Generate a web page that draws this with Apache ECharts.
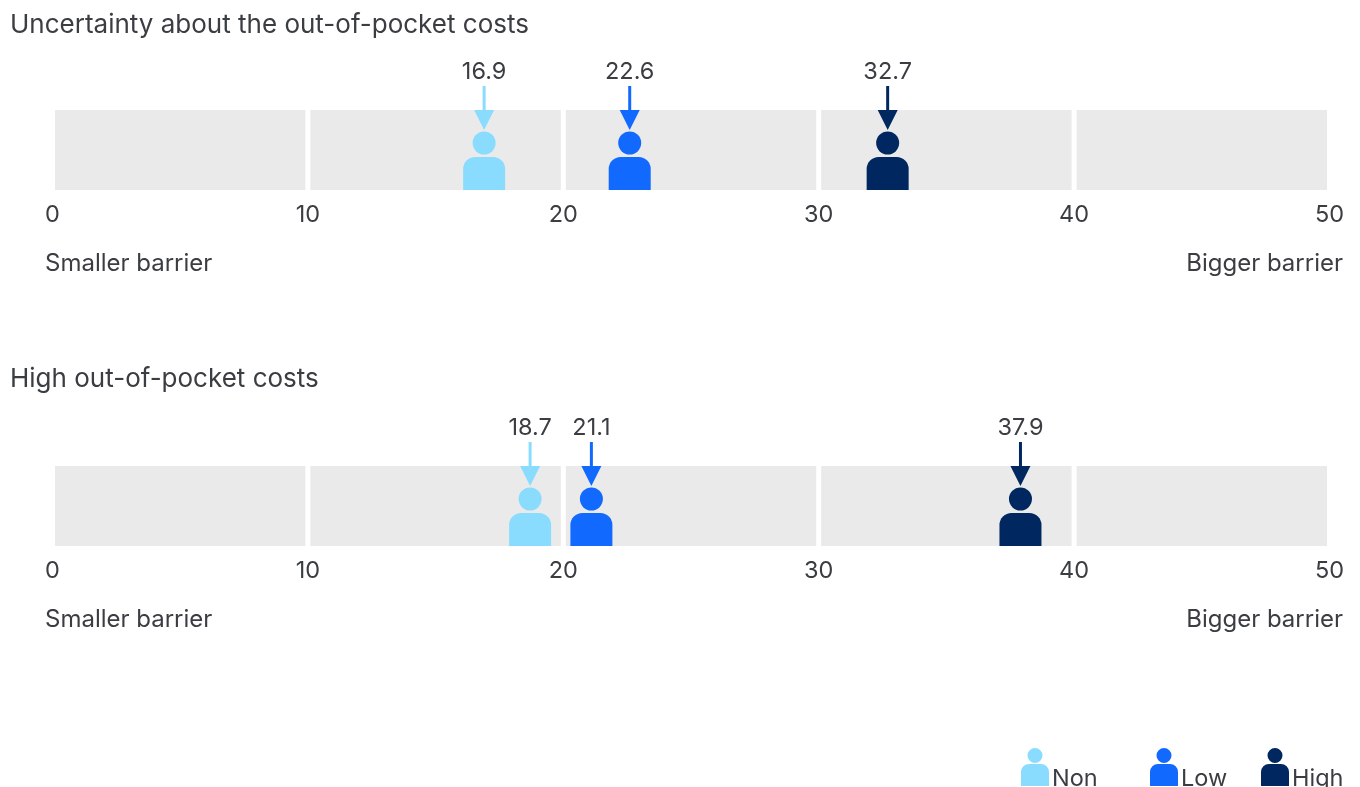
<!DOCTYPE html>
<html>
<head>
<meta charset="utf-8">
<style>html,body{margin:0;padding:0;background:#fff}#chart{width:1360px;height:787px}</style>
<script src="https://cdn.jsdelivr.net/npm/echarts@6/dist/echarts.min.js"></script>
</head>
<body>
<div id="chart"></div>
<script>
// Barrier scores on a 0-50 scale, one panel per barrier, one value per deductible group
const panelTitles = ['Uncertainty about the out-of-pocket costs', 'High out-of-pocket costs'];
const groups = ['Non', 'Low', 'High'];
const groupColors = ['#8adcff', '#1169fe', '#00275f'];
const uncertaintyScores = [16.9, 22.6, 32.7];
const highCostScores = [18.7, 21.1, 37.9];
const bandStarts = [0, 10, 20, 30, 40];
const scaleEndLabels = ['Smaller barrier', 'Bigger barrier'];

const panelScores = [uncertaintyScores, highCostScores];
const FONT = 'Inter, "Noto Sans", sans-serif';
const INK = '#3a3d42';
const PANEL_TOPS = [110, 466];
const BAND_HEIGHT = 80;

// Person glyph used for legend swatches: head plus rounded shoulders
const PERSON_ICON = 'path://M14 0a7.5 7.5 0 1 1 0 15a7.5 7.5 0 1 1 0-15z' +
  'M8 16H20a8 8 0 0 1 8 8V38H0V24a8 8 0 0 1 8-8z';

// Grey segment between two ticks, inset so white gaps sit on the tick positions
function renderBand(params, api) {
  const a = api.coord([api.value(0), 0]);
  const b = api.coord([api.value(0) + 10, 1]);
  return {
    type: 'rect',
    shape: { x: a[0] + 2.5, y: b[1], width: b[0] - a[0] - 5, height: a[1] - b[1] },
    style: { fill: '#eaeaea' }
  };
}

// Person standing on the band floor, arrow above the head and the score on top
function renderMarker(params, api) {
  const value = api.value(0);
  const p = api.coord([value, 0]);
  const x = p[0], floor = p[1];
  const fill = api.visual('color');
  const bandTop = floor - BAND_HEIGHT;
  return {
    type: 'group',
    children: [
      { type: 'rect', shape: { x: x - 21, y: floor - 33, width: 42, height: 33, r: [12, 12, 0, 0] }, style: { fill } },
      { type: 'circle', shape: { cx: x, cy: floor - 47, r: 11.5 }, style: { fill } },
      { type: 'line', shape: { x1: x, y1: bandTop - 24, x2: x, y2: bandTop + 2 }, style: { stroke: fill, lineWidth: 3 } },
      { type: 'polygon', shape: { points: [[x - 10, bandTop], [x + 10, bandTop], [x, bandTop + 20]] }, style: { fill } },
      { type: 'text', style: { text: value.toFixed(1), x: x, y: bandTop - 38, fill: INK,
          font: '23.5px ' + FONT, align: 'center', verticalAlign: 'middle' } }
    ]
  };
}

const grids = PANEL_TOPS.map(top => ({ left: 52.5, width: 1277, top, height: BAND_HEIGHT }));
const xAxes = PANEL_TOPS.map((_, i) => ({
  type: 'value', gridIndex: i, min: 0, max: 50, interval: 10,
  axisLine: { show: false }, axisTick: { show: false }, splitLine: { show: false },
  axisLabel: { color: INK, fontFamily: FONT, fontSize: 23.5, margin: 13 }
}));
const yAxes = PANEL_TOPS.map((_, i) => ({ type: 'value', gridIndex: i, min: 0, max: 1, show: false }));

const series = [];
PANEL_TOPS.forEach((_, i) => {
  series.push({
    type: 'custom', name: 'bands', xAxisIndex: i, yAxisIndex: i, silent: true,
    renderItem: renderBand, encode: { x: 0 },
    data: bandStarts.map(v => [v])
  });
  groups.forEach((g, k) => {
    series.push({
      type: 'custom', name: g, xAxisIndex: i, yAxisIndex: i, silent: true,
      itemStyle: { color: groupColors[k] }, renderItem: renderMarker, encode: { x: 0 },
      clip: false, z: 5,
      data: [[panelScores[i][k]]]
    });
  });
});

const titles = panelTitles.map((text, i) => ({
  text, left: 5, top: [7, 361][i],
  textStyle: { color: INK, fontFamily: FONT, fontSize: 26, fontWeight: 400 }
}));

const scaleNotes = [];
PANEL_TOPS.forEach(top => {
  scaleNotes.push({ type: 'text', left: 45, top: top + 142,
    style: { text: scaleEndLabels[0], fill: INK, font: '24px ' + FONT } });
  scaleNotes.push({ type: 'text', right: 17, top: top + 142,
    style: { text: scaleEndLabels[1], fill: INK, font: '24px ' + FONT } });
});

const legendLefts = [1021, 1150, 1261];
const legends = groups.map((g, k) => ({
  left: legendLefts[k], top: 748, padding: 0, selectedMode: false,
  itemWidth: 28, itemHeight: 38,
  data: [{ name: g, icon: PERSON_ICON }],
  formatter: '{drop|{name}}',
  textStyle: {
    rich: { drop: { color: INK, fontFamily: FONT, fontSize: 23.5, padding: [23, 0, 0, -2] } }
  }
}));

echarts.init(document.getElementById('chart')).setOption({
  animation: false,
  backgroundColor: '#fff',
  title: titles,
  grid: grids,
  xAxis: xAxes,
  yAxis: yAxes,
  legend: legends,
  graphic: scaleNotes,
  series
});
</script>
</body>
</html>
